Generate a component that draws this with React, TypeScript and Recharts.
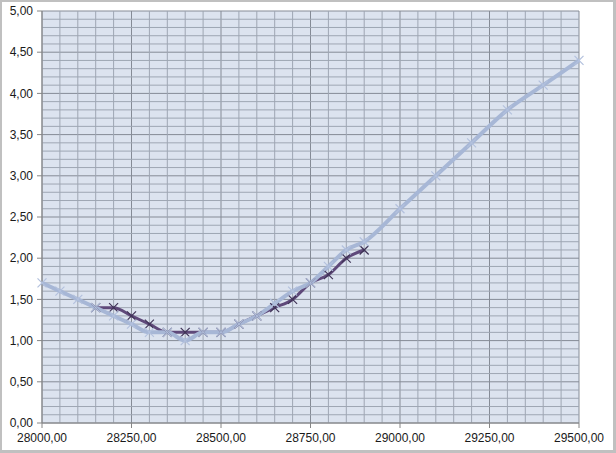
import React from 'react'
import { LineChart, Line, XAxis, YAxis, CartesianGrid, ReferenceLine } from 'recharts'

const lightX = [28000, 28050, 28100, 28150, 28200, 28250, 28300, 28350, 28400, 28450, 28500, 28550, 28600, 28650, 28700, 28750, 28800, 28850, 28900, 29000, 29100, 29200, 29300, 29400, 29500]
const lightY = [1.7, 1.6, 1.5, 1.4, 1.3, 1.2, 1.1, 1.1, 1.0, 1.1, 1.1, 1.2, 1.3, 1.45, 1.6, 1.7, 1.9, 2.1, 2.2, 2.6, 3.0, 3.4, 3.8, 4.1, 4.4]

const darkX = [28150, 28200, 28250, 28300, 28350, 28400, 28450, 28500, 28550, 28600, 28650, 28700, 28750, 28800, 28850, 28900]
const darkY = [1.4, 1.4, 1.3, 1.2, 1.1, 1.1, 1.1, 1.1, 1.2, 1.3, 1.4, 1.5, 1.7, 1.8, 2.0, 2.1]

const xTicks = [28000, 28250, 28500, 28750, 29000, 29250, 29500]
const yTicks = [0, 0.5, 1, 1.5, 2, 2.5, 3, 3.5, 4, 4.5, 5]
const xMinor = [28050, 28100, 28150, 28200, 28300, 28350, 28400, 28450, 28550, 28600, 28650, 28700, 28800, 28850, 28900, 28950, 29050, 29100, 29150, 29200, 29300, 29350, 29400, 29450]
const yMinor = [0.1, 0.2, 0.3, 0.4, 0.6, 0.7, 0.8, 0.9, 1.1, 1.2, 1.3, 1.4, 1.6, 1.7, 1.8, 1.9, 2.1, 2.2, 2.3, 2.4, 2.6, 2.7, 2.8, 2.9, 3.1, 3.2, 3.3, 3.4, 3.6, 3.7, 3.8, 3.9, 4.1, 4.2, 4.3, 4.4, 4.6, 4.7, 4.8, 4.9]

const lightData = lightX.map((x, i) => ({ x, y: lightY[i] }))
const darkData = darkX.map((x, i) => ({ x, y: darkY[i] }))

const fmt = (v: number) => v.toFixed(2).replace('.', ',')

const crossDot = (color: string) => (props: any) => {
  const { cx, cy, index } = props
  if (cx == null || cy == null) return <g key={index} />
  const s = 4.5
  return (
    <g key={index} stroke={color} strokeWidth={1.2}>
      <line x1={cx - s} y1={cy - s} x2={cx + s} y2={cy + s} />
      <line x1={cx - s} y1={cy + s} x2={cx + s} y2={cy - s} />
    </g>
  )
}

const tickStyle = { fill: '#1a1a1a', fontSize: 12, fontFamily: 'Liberation Sans, Arial, sans-serif' }

export default function App() {
  return (
    <div style={{ position: 'fixed', left: 0, top: 0, width: 616, height: 453, background: '#fff' }}>
      <div
        style={{
          position: 'absolute', left: 0, top: 0, width: 616, height: 453, boxSizing: 'border-box',
          borderTop: '2px solid #c0c0c0', borderLeft: '2px solid #c0c0c0',
          borderRight: '3px solid #c0c0c0', borderBottom: '3px solid #c0c0c0',
        }}
      />
      <div style={{ position: 'absolute', left: 0, top: 0 }}>
        <LineChart width={616} height={453} margin={{ top: 11, right: 37, left: 0, bottom: 0 }}>
          <CartesianGrid stroke="#858b96" strokeWidth={1} fill="#dce3ef" fillOpacity={1} />
          {xMinor.map((v) => (
            <ReferenceLine key={'vx' + v} x={v} stroke="#9ea6b3" strokeWidth={1} />
          ))}
          {yMinor.map((v) => (
            <ReferenceLine key={'hy' + v} y={v} stroke="#9ea6b3" strokeWidth={1} />
          ))}
          <XAxis
            dataKey="x"
            type="number"
            domain={[28000, 29500]}
            ticks={xTicks}
            tickFormatter={fmt}
            allowDuplicatedCategory={false}
            height={30}
            stroke="#868686"
            tickSize={5}
            tickMargin={5}
            tick={tickStyle}
            interval={0}
          />
          <YAxis
            type="number"
            domain={[0, 5]}
            ticks={yTicks}
            tickFormatter={fmt}
            width={42}
            stroke="#868686"
            tickSize={5}
            tickMargin={4}
            tick={tickStyle}
            interval={0}
          />
          <Line
            data={darkData}
            dataKey="y"
            type="monotone"
            stroke="#5f497a"
            strokeWidth={3}
            dot={crossDot('#3f3356')}
            activeDot={false}
            isAnimationActive={false}
          />
          <Line
            data={lightData}
            dataKey="y"
            type="monotone"
            stroke="#a7b7d6"
            strokeWidth={4}
            dot={crossDot('#b3c1dd')}
            activeDot={false}
            isAnimationActive={false}
          />
        </LineChart>
      </div>
    </div>
  )
}
